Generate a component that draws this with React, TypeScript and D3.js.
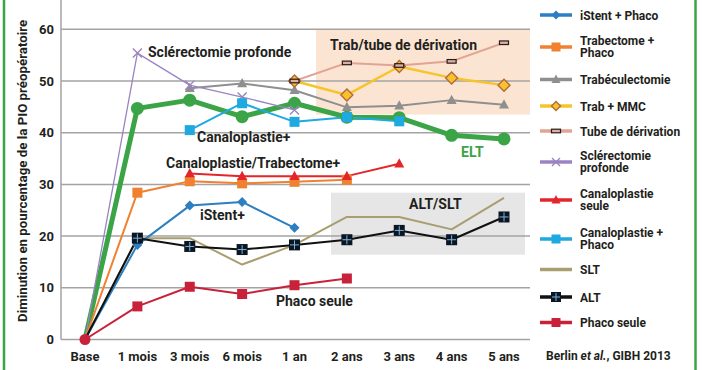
import React from "react";
import * as d3 from "d3";

const categories = ["Base", "1 mois", "3 mois", "6 mois", "1 an", "2 ans", "3 ans", "4 ans", "5 ans"];
const yTicks = [0, 10, 20, 30, 40, 50, 60];

type V = number | null;
const istentPhaco: V[] = [0, 18.3, 25.9, 26.6, 21.6, null, null, null, null];
const trabectomePhaco: V[] = [0, 28.4, 30.6, 30.2, 30.5, 30.9, null, null, null];
const trabeculectomie: V[] = [null, null, 48.6, 49.5, 48.2, 44.9, 45.2, 46.3, 45.4];
const trabMMC: V[] = [null, null, null, null, 50.0, 47.3, 52.8, 50.6, 49.2];
const tubeDerivation: V[] = [null, null, null, null, 50.0, 53.5, 53.0, 53.8, 57.4];
const sclerectomie: V[] = [0, 55.4, 49.2, 46.9, 44.4, null, null, null, null];
const canaloSeule: V[] = [null, null, 32.1, 31.6, 31.6, 31.6, 34.0, null, null];
const canaloPhaco: V[] = [null, null, 40.5, 45.7, 42.1, 43.0, 42.2, null, null];
const slt: V[] = [0, 19.6, 19.6, 14.5, 18.3, 23.7, 23.7, 21.3, 27.4];
const alt: V[] = [0, 19.6, 18.0, 17.4, 18.3, 19.3, 21.1, 19.3, 23.7];
const phacoSeule: V[] = [0, 6.4, 10.2, 8.8, 10.5, 11.8, null, null, null];
const elt: V[] = [0, 44.7, 46.3, 43.1, 45.7, 43.0, 42.9, 39.5, 38.8];

type Marker = "diamond" | "square" | "triangle" | "mmc" | "tube" | "x" | "none" | "alt" | "circle";
interface S { name: string[]; data: V[]; color: string; width: number; marker: Marker; size: number; legend: boolean; }

const series: S[] = [
  { name: ["SLT"], data: slt, color: "#a89e70", width: 2, marker: "none", size: 0, legend: true },
  { name: ["Trabéculectomie"], data: trabeculectomie, color: "#8f8f8f", width: 2, marker: "triangle", size: 10, legend: true },
  { name: ["ELT"], data: elt, color: "#3aa447", width: 5, marker: "circle", size: 13, legend: false },
  { name: ["Trab + MMC"], data: trabMMC, color: "#f5c52b", width: 2.5, marker: "mmc", size: 12, legend: true },
  { name: ["Tube de dérivation"], data: tubeDerivation, color: "#e2a393", width: 2, marker: "tube", size: 8, legend: true },
  { name: ["Sclérectomie", "profonde"], data: sclerectomie, color: "#9b84c2", width: 1.3, marker: "x", size: 9, legend: true },
  { name: ["Canaloplastie +", "Phaco"], data: canaloPhaco, color: "#1fa9e1", width: 2, marker: "square", size: 10, legend: true },
  { name: ["Trabectome +", "Phaco"], data: trabectomePhaco, color: "#f08130", width: 2, marker: "square", size: 10, legend: true },
  { name: ["Canaloplastie", "seule"], data: canaloSeule, color: "#e3262b", width: 2, marker: "triangle", size: 10, legend: true },
  { name: ["iStent + Phaco"], data: istentPhaco, color: "#2b7fc2", width: 2, marker: "diamond", size: 10, legend: true },
  { name: ["ALT"], data: alt, color: "#111111", width: 2, marker: "alt", size: 11, legend: true },
  { name: ["Phaco seule"], data: phacoSeule, color: "#c8223a", width: 2, marker: "square", size: 10, legend: true },
];

const legendOrder = ["iStent + Phaco", "Trabectome +", "Trabéculectomie", "Trab + MMC", "Tube de dérivation", "Sclérectomie", "Canaloplastie", "Canaloplastie +", "SLT", "ALT", "Phaco seule"];
const legendY = [15, 47, 79.5, 106, 131, 162, 200, 239, 269.5, 297, 322.5];

const FONT = "Roboto, 'Open Sans', sans-serif";
const TXT = "#231f20";

function MarkerShape({ s, x, y }: { s: S; x: number; y: number }) {
  const c = s.color;
  const k = s.size / 2;
  switch (s.marker) {
    case "diamond":
      return <path d={`M${x},${y - k}L${x + k},${y}L${x},${y + k}L${x - k},${y}Z`} fill={c} />;
    case "square":
      return <rect x={x - k} y={y - k} width={s.size} height={s.size} fill={c} />;
    case "triangle":
      return <path d={`M${x},${y - k * 1.1}L${x + k},${y + k * 0.75}L${x - k},${y + k * 0.75}Z`} fill={c} />;
    case "mmc":
      return <path d={`M${x},${y - k}L${x + k},${y}L${x},${y + k}L${x - k},${y}Z`} fill="#f7c22e" stroke="#b36a3c" strokeWidth={1.4} />;
    case "tube":
      return <rect x={x - 4.5} y={y - 1.8} width={9} height={3.6} fill="#d9b0a4" stroke="#2a1a1a" strokeWidth={1.2} />;
    case "x":
      return <path d={`M${x - k},${y - k}L${x + k},${y + k}M${x - k},${y + k}L${x + k},${y - k}`} stroke={c} strokeWidth={1.4} />;
    case "circle":
      return <circle cx={x} cy={y} r={k} fill={c} />;
    case "alt":
      return (
        <g>
          <rect x={x - k} y={y - k} width={s.size} height={s.size} fill="#0b1624" />
          <path d={`M${x},${y - k + 1}V${y + k - 1}M${x - k + 1},${y}H${x + k - 1}`} stroke="#7fb3d6" strokeWidth={1} />
        </g>
      );
    default:
      return null;
  }
}

export default function App() {
  const x = d3.scalePoint<string>().domain(categories).range([85, 504]);
  const y = d3.scaleLinear().domain([0, 60]).range([339.5, 29.3]);
  const line = d3
    .line<V>()
    .defined((d) => d !== null)
    .x((_, i) => x(categories[i]) as number)
    .y((d) => y(d as number));

  return (
    <svg width={702} height={370} style={{ position: "absolute", left: 0, top: 0, background: "#fff" }} fontFamily={FONT}>
      <rect width={702} height={370} fill="#fff" />
      {/* shaded regions */}
      <rect x={316} y={y(60)} width={214} height={y(43.5) - y(60)} fill="#fbe5d2" />
      <rect x={331} y={y(28.4)} width={194} height={y(16.4) - y(28.4)} fill="#e6e6e6" />
      {/* green borders */}
      <line x1={4} x2={4} y1={0} y2={370} stroke="#3aa447" strokeWidth={2.5} />
      <line x1={695.5} x2={695.5} y1={0} y2={370} stroke="#3aa447" strokeWidth={2.5} />
      {/* grid */}
      {yTicks.map((t) => (
        <line key={t} x1={61} x2={530} y1={y(t)} y2={y(t)} stroke="#a3a3a3" strokeWidth={1.5} />
      ))}
      <line x1={61} x2={61} y1={0} y2={y(0)} stroke="#a3a3a3" strokeWidth={1.5} />
      {yTicks.map((t) => (
        <text key={t} x={54} y={y(t)} dy="0.35em" textAnchor="end" fontSize={13} fontWeight={700} fill={TXT}>
          {t}
        </text>
      ))}
      {categories.map((c) => (
        <text key={c} x={x(c)} y={361} textAnchor="middle" fontSize={13} fontWeight={700} fill={TXT}>
          {c}
        </text>
      ))}
      <text transform="translate(27,322) rotate(-90)" fontSize={13.3} fontWeight={700} fill={TXT}>
        Diminution en pourcentage de la PIO préopératoire
      </text>
      {/* annotations */}
      <g fontSize={14} fontWeight={700} fill={TXT}>
        <text x={148} y={56.5}>Sclérectomie profonde</text>
        <text x={330} y={50}>Trab/tube de dérivation</text>
        <text x={461} y={156.5} fill="#3aa447">ELT</text>
        <text x={197} y={141.5}>Canaloplastie+</text>
        <text x={166} y={167.5}>Canaloplastie/Trabectome+</text>
        <text x={200} y={220}>iStent+</text>
        <text x={409} y={209}>ALT/SLT</text>
        <text x={276} y={305.5}>Phaco seule</text>
      </g>
      {/* lines */}
      {series.map((s) => (
        <path key={s.name.join(" ")} d={line(s.data) || ""} fill="none" stroke={s.color} strokeWidth={s.width} strokeLinejoin="round" />
      ))}
      {series.map((s) =>
        s.data.map((v, i) =>
          v === null || i === 0 ? null : (
            <MarkerShape key={s.name.join(" ") + i} s={s} x={x(categories[i]) as number} y={y(v)} />
          )
        )
      )}
      <circle cx={x("Base")} cy={y(0)} r={5.5} fill="#c8223a" />
      {/* legend */}
      {legendOrder.map((nm, i) => {
        const s = series.find((q) => q.name[0] === nm)!;
        const ly = legendY[i];
        const two = s.name.length > 1;
        return (
          <g key={nm}>
            <line x1={540} x2={572} y1={ly} y2={ly} stroke={s.color} strokeWidth={3.5} />
            {s.marker !== "none" && <MarkerShape s={{ ...s, size: s.marker === "alt" ? 10 : s.marker === "x" ? 8 : 9 }} x={556} y={ly} />}
            <text x={580} y={two ? ly - 2.5 : ly + 4.5} fontSize={12} fontWeight={700} fill={TXT}>
              {s.name[0]}
            </text>
            {two && (
              <text x={580} y={ly + 10} fontSize={12} fontWeight={700} fill={TXT}>
                {s.name[1]}
              </text>
            )}
          </g>
        );
      })}
      <text x={546} y={359.5} fontSize={12} fontWeight={700} fill={TXT}>
        Berlin <tspan fontStyle="italic">et al.</tspan>, GIBH 2013
      </text>
    </svg>
  );
}
